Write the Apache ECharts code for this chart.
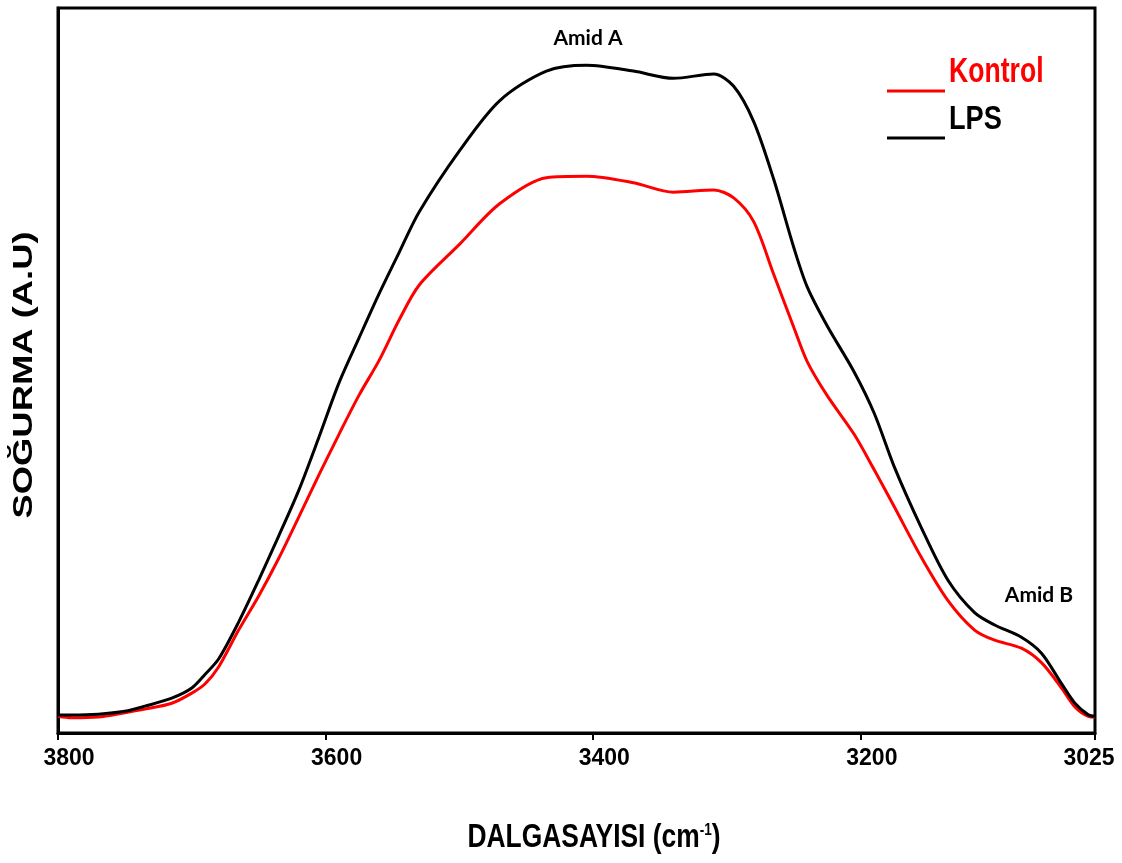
<!DOCTYPE html>
<html>
<head>
<meta charset="utf-8">
<script src="https://cdn.jsdelivr.net/npm/echarts@6/dist/echarts.min.js"></script>
<style>
  html, body { margin: 0; padding: 0; background: #fff; }
  #chart { width: 1122px; height: 863px; }
</style>
</head>
<body>
<div id="chart"></div>
<script>
// dalga sayısı (cm-1)
const wavenumbers = [3800, 3790, 3770, 3750, 3735, 3715, 3700, 3690, 3680, 3665, 3650, 3635, 3620, 3605,
  3590, 3575, 3560, 3545, 3530, 3500, 3470, 3435, 3405, 3370, 3340, 3310, 3295, 3280, 3265, 3250, 3240,
  3225, 3205, 3190, 3175, 3155, 3135, 3115, 3100, 3080, 3065, 3050, 3040, 3030, 3025];

const kontrol = [0.023, 0.021, 0.022, 0.028, 0.033, 0.041, 0.055, 0.068, 0.091, 0.142, 0.189, 0.241, 0.298, 0.356,
  0.412, 0.466, 0.514, 0.570, 0.618, 0.674, 0.730, 0.766, 0.768, 0.759, 0.746, 0.749, 0.738, 0.705, 0.632, 0.559, 0.512,
  0.465, 0.412, 0.363, 0.312, 0.243, 0.183, 0.142, 0.128, 0.117, 0.097, 0.062, 0.036, 0.023, 0.022];

const lps = [0.025, 0.025, 0.026, 0.030, 0.037, 0.048, 0.062, 0.081, 0.102, 0.153, 0.211, 0.272, 0.335, 0.408,
  0.483, 0.545, 0.606, 0.663, 0.719, 0.803, 0.872, 0.913, 0.921, 0.913, 0.903, 0.909, 0.892, 0.843, 0.763, 0.669, 0.615,
  0.561, 0.498, 0.441, 0.367, 0.284, 0.211, 0.166, 0.149, 0.132, 0.110, 0.068, 0.041, 0.025, 0.023];

const xTicks = [3800, 3600, 3400, 3200, 3025];

const sans = '"Liberation Sans", Arial, sans-serif';

const chart = echarts.init(document.getElementById('chart'));

const pairs = (ys) => wavenumbers.map((w, i) => [w, ys[i]]);

const tickFont = {fontFamily: sans, fontWeight: 'bold', fontSize: 23, color: '#000'};

chart.setOption({
  animation: false,
  grid: {
    left: 58, right: 27, top: 8, bottom: 130,
    outerBoundsMode: 'none',
    containLabel: false,
    show: true, borderColor: '#000', borderWidth: 3
  },
  xAxis: {
    type: 'value',
    inverse: true,
    min: 3025,
    max: 3800,
    axisLine: {show: true, lineStyle: {color: '#000', width: 3}},
    axisTick: {show: true, customValues: xTicks, length: 7, lineStyle: {color: '#000', width: 2}},
    axisLabel: {
      customValues: xTicks,
      // etiketler referansta tik çizgisinin biraz sağında duruyor
      formatter: (v) => (v === 3025 ? '{r|' + v + '}' : '{l|' + v + '}'),
      rich: {
        l: Object.assign({padding: [0, 0, 0, 22]}, tickFont),
        r: Object.assign({padding: [0, 12, 0, 0]}, tickFont)
      },
      margin: 14,
      color: '#000',
      fontFamily: sans,
      fontWeight: 'bold',
      fontSize: 23
    },
    splitLine: {show: false}
  },
  yAxis: {
    type: 'value',
    min: 0,
    max: 1,
    axisLine: {show: true, lineStyle: {color: '#000', width: 3}},
    axisTick: {show: false},
    axisLabel: {show: false},
    splitLine: {show: false}
  },
  series: [
    {
      name: 'Kontrol',
      type: 'line',
      data: pairs(kontrol),
      showSymbol: false,
      smooth: 0.3,
      lineStyle: {color: '#ff0000', width: 3}
    },
    {
      name: 'LPS',
      type: 'line',
      data: pairs(lps),
      showSymbol: false,
      smooth: 0.3,
      lineStyle: {color: '#000', width: 3}
    }
  ],
  graphic: [
    // eksen başlıkları
    {
      type: 'text', x: 594, y: 838, scaleX: 0.8,
      style: {
        text: '{t|DALGASAYISI (cm}{s|-1}{t|)}',
        align: 'center', verticalAlign: 'middle',
        rich: {
          t: {fontFamily: sans, fontWeight: 'bold', fontSize: 33, fill: '#000'},
          s: {fontFamily: sans, fontWeight: 'bold', fontSize: 17, fill: '#000', verticalAlign: 'top', padding: [0, 0, 14, 0]}
        }
      }
    },
    {
      type: 'text', x: 24, y: 375, rotation: Math.PI / 2, scaleX: 1.3,
      style: {
        text: 'SOĞURMA (A.U)',
        fontFamily: sans,
        fontWeight: 'bold', fontSize: 28, fill: '#000',
        align: 'center', verticalAlign: 'middle'
      }
    },
    // bant etiketleri
    {
      type: 'text', x: 588, y: 38,
      style: {text: 'Amid A', fontFamily: 'Lato, sans-serif', fontWeight: 'bold', fontSize: 21, fill: '#000', align: 'center', verticalAlign: 'middle'}
    },
    {
      type: 'text', x: 1039, y: 595,
      style: {text: 'Amid B', fontFamily: 'Lato, sans-serif', fontWeight: 'bold', fontSize: 21, fill: '#000', align: 'center', verticalAlign: 'middle'}
    },
    // lejant
    {type: 'line', shape: {x1: 887, y1: 91, x2: 945, y2: 91}, style: {stroke: '#ff0000', lineWidth: 3}},
    {type: 'line', shape: {x1: 887, y1: 138, x2: 945, y2: 138}, style: {stroke: '#000', lineWidth: 3}},
    {
      type: 'text', x: 949, y: 90, scaleX: 0.76,
      style: {text: 'Kontrol', fontFamily: sans, fontWeight: 'bold', fontSize: 35, fill: '#ff0000', verticalAlign: 'bottom'}
    },
    {
      type: 'text', x: 949, y: 137, scaleX: 0.8,
      style: {text: 'LPS', fontFamily: sans, fontWeight: 'bold', fontSize: 34, fill: '#000', verticalAlign: 'bottom'}
    }
  ]
});
</script>
</body>
</html>
